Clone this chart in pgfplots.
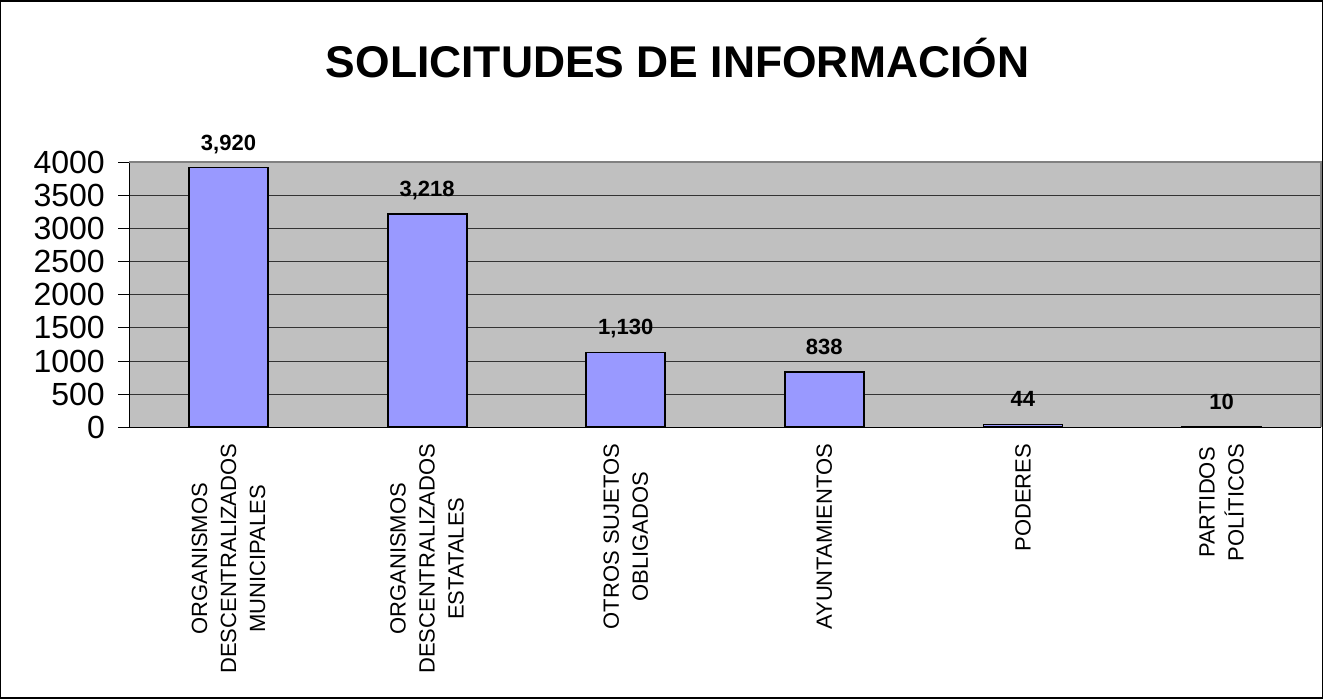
\documentclass[border=0pt]{standalone}
\usepackage{pgfplots}
\pgfplotsset{compat=1.18}
\usepackage{fontspec}
\setmainfont{Liberation Sans}
\definecolor{plotgray}{HTML}{C0C0C0}
\definecolor{barblue}{HTML}{9999FF}
\definecolor{framegray}{HTML}{808080}

\begin{document}
\begin{tikzpicture}
    % outer frame of the chart
    \draw[black, line width=0.75pt] (-64.2pt,-135.2pt) rectangle (596.2pt,213.2pt);

    \begin{axis}[
            at={(0,0)}, anchor=south west,
            scale only axis,
            width=595.5pt, height=132.5pt,
            ybar, bar width=39.5pt,
            xmin=-0.5, xmax=5.5,
            ymin=0, ymax=4000,
            enlargelimits=false,
            clip=false,
            axis background/.style={fill=plotgray},
            axis x line*=bottom, axis y line*=left,
            axis line style={black, line width=0.6pt},
            tick align=outside,
            tick style={black, line width=0.5pt},
            ytick={0,500,...,4000},
            major tick length=5.5pt,
            minor tick length=3.5pt,
            xtick={0,...,5},
            x tick style={draw=none},
            minor xtick={0.5,1.5,...,5.5},
            minor x tick style={black, line width=0.5pt},
            xticklabels={
                {ORGANISMOS\\DESCENTRALIZADOS\\MUNICIPALES},
                {ORGANISMOS\\DESCENTRALIZADOS\\ESTATALES},
                {OTROS SUJETOS\\OBLIGADOS},
                {AYUNTAMIENTOS},
                {PODERES},
                {PARTIDOS\\POLÍTICOS}
            },
            xticklabel style={rotate=90, anchor=east, align=center, inner sep=0pt,
                font=\fontsize{11}{14.5}\selectfont},
            xticklabel shift=2.5pt,
            yticklabel style={inner sep=0pt, font=\fontsize{16}{18}\selectfont,
                /pgf/number format/1000 sep={}},
            yticklabel shift=6.5pt,
            /pgf/number format/assume math mode=true,
            ymajorgrids=true,
            grid style={black!80, line width=0.5pt},
            nodes near coords={\pgfmathprintnumber[assume math mode=true,1000 sep={,}]{\pgfplotspointmeta}},
            every node near coord/.append style={anchor=base, inner sep=0pt, yshift=8.75pt,
                font=\bfseries\fontsize{11}{13}\selectfont},
        ]

        \addplot[fill=barblue, draw=black, line width=0.9pt] coordinates {
                (0, 3920)
                (1, 3218)
                (2, 1130)
                (3, 838)
                (4, 44)
                (5, 10)
            };

        % plot area border on top and right
        \draw[framegray, line width=1pt] (rel axis cs:0,1) -- (rel axis cs:1,1) -- (rel axis cs:1,0);
    \end{axis}

    \node[anchor=base, font=\bfseries\fontsize{22.2}{26}\selectfont] at (274pt,175pt) {SOLICITUDES DE INFORMACIÓN};
\end{tikzpicture}
\end{document}
